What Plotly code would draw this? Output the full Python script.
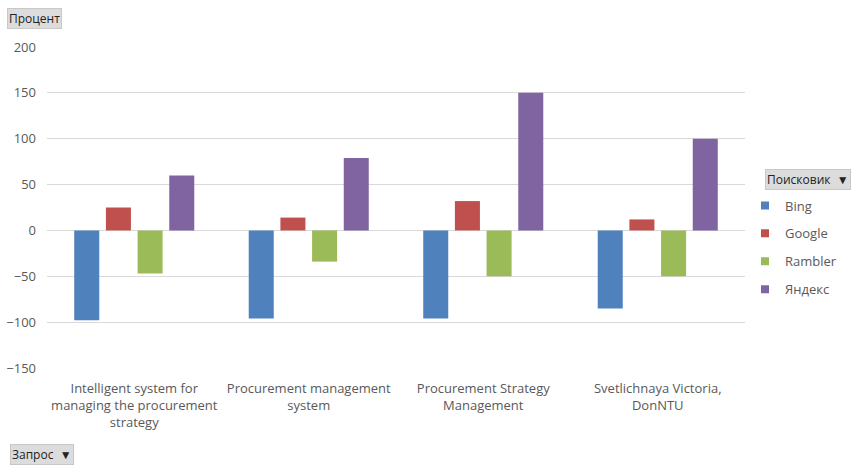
import plotly.graph_objects as go

categories = [
    "Intelligent system for<br>managing the procurement<br>strategy",
    "Procurement management<br>system",
    "Procurement Strategy<br>Management",
    "Svetlichnaya Victoria,<br>DonNTU",
]
series_names = ["Bing", "Google", "Rambler", "Яндекс"]
bing = [-98, -96, -96, -85]
google = [25, 14, 32, 12]
rambler = [-47, -34, -50, -50]
yandex = [60, 79, 150, 100]
colors = ["#4F81BD", "#C0504D", "#9BBB59", "#8064A2"]
y_ticks = [-150, -100, -50, 0, 50, 100, 150, 200]

FONT = "Open Sans, Noto Sans, sans-serif"
fig = go.Figure()
for name, vals, col in zip(series_names, [bing, google, rambler, yandex], colors):
    fig.add_trace(go.Bar(x=categories, y=vals, name=name, marker_color=col,
                         marker_line_width=0, showlegend=False))
for name, col in zip(series_names, colors):
    fig.add_trace(go.Scatter(x=[None], y=[None], mode="markers", name=name,
                             marker=dict(symbol="square", size=8, color=col),
                             legendgroup=name, showlegend=True))

fig.update_layout(
    width=863, height=468,
    paper_bgcolor="white", plot_bgcolor="white",
    margin=dict(l=47, r=118, t=47, b=100, autoexpand=False),
    barmode="group", bargap=0.274, bargroupgap=0.21,
    font=dict(family=FONT, size=13, color="#595959"),
    showlegend=True,
    legend=dict(x=1.0, xanchor="left", xref="paper", y=0.553, yanchor="top",
                font=dict(size=13, color="#595959"), tracegroupgap=8,
                itemwidth=30, traceorder="grouped"),
    xaxis=dict(showgrid=False, showline=False, ticks="", ticklabelstandoff=11,
               automargin=False, tickfont=dict(size=13, color="#595959")),
    yaxis=dict(range=[-150, 200], tickvals=y_ticks, showgrid=True, gridcolor="#D9D9D9",
               zeroline=True, zerolinecolor="#D9D9D9", zerolinewidth=1,
               showline=False, ticks="", ticklabelstandoff=10, automargin=False,
               tickfont=dict(size=13, color="#595959")),
)

btn = dict(showarrow=False, bgcolor="#DCDCDC", bordercolor="#C8C8C8", borderwidth=1,
           font=dict(family=FONT, size=12, color="#222222"), xref="paper", yref="paper")
fig.add_annotation(text="Процент", x=-47/698, y=(468-100-8)/321, xanchor="left", yanchor="top",
                   xshift=7, yshift=0, **btn)
fig.add_annotation(text="Поисковик  ▼", x=1.0, y=0.0, xanchor="left", yanchor="middle",
                   xshift=20, yshift=(368-179), **btn)
fig.add_annotation(text="Запрос  ▼", x=-47/698, y=0, xanchor="left", yanchor="middle",
                   xshift=10, yshift=-(454-368), **btn)

fig.write_html("out.html")
